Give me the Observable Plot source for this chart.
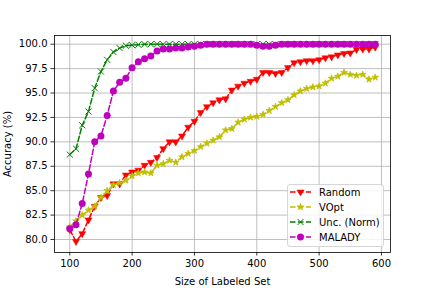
<!DOCTYPE html>
<html>
<head>
<meta charset="utf-8">
<script src="https://cdn.jsdelivr.net/npm/d3@7"></script>
<script src="https://cdn.jsdelivr.net/npm/@observablehq/plot@0.6"></script>
<style>
  html, body { margin: 0; padding: 0; background: #fff; }
  #wrap { position: relative; width: 432px; height: 288px; font-family: "DejaVu Sans", sans-serif; }
</style>
</head>
<body>
<div id="wrap"></div>
<script>
const sizes = [100,110,120,130,140,150,160,170,180,190,200,210,220,230,240,250,260,270,280,290,300,310,320,330,340,350,360,370,380,390,400,410,420,430,440,450,460,470,480,490,500,510,520,530,540,550,560,570,580,590];

const random = [81.0,79.8,80.6,82.0,83.4,84.3,84.5,85.7,85.7,86.6,86.9,87.1,87.6,87.9,88.4,89.3,90.0,90.0,90.6,91.5,92.1,93.0,93.6,94.0,94.3,94.4,95.3,95.7,96.0,96.2,96.4,97.1,97.1,97.0,97.1,97.6,98.1,98.2,98.3,98.3,98.4,98.6,98.7,98.9,99.05,99.1,99.45,99.5,99.5,99.7];

const vopt = [81.3,81.9,82.5,83.0,83.4,84.3,85.0,85.6,85.8,86.05,86.5,86.8,86.9,86.8,87.6,87.75,88.1,87.9,88.45,88.8,89.1,89.5,89.85,90.15,90.5,91.2,91.35,92.0,92.3,92.5,92.6,92.8,93.2,93.6,94.0,94.3,94.8,95.2,95.45,95.6,95.7,96.0,96.5,96.7,97.1,96.9,96.8,96.9,96.4,96.6];

const uncNorm = [88.7,89.3,91.7,93.1,95.5,97.2,98.4,99.2,99.6,99.85,99.9,99.95,100,100,100,100,100,100,100,100,100,100,100,100,100,100,100,100,100,100,100,100,100,100,100,100,100,100,100,100,100,100,100,100,100,100,100,100,100,100];

const malady = [81.1,81.5,83.7,86.7,90.0,90.6,92.7,95.2,96.1,96.5,97.6,98.2,98.5,98.8,99.3,99.5,99.5,99.6,99.6,99.7,99.8,99.9,100,100,100,100,100,100,100,100,99.9,99.8,99.8,99.9,100,100,100,100,100,100,100,100,100,100,100,100,100,100,100,100];

const seriesNames = ["Random", "VOpt", "Unc. (Norm)", "MALADY"];
const seriesColors = ["#ff0000", "#bfbf00", "#008000", "#bf00bf"];
const xTicks = [100, 200, 300, 400, 500, 600];
const yTicks = [80, 82.5, 85, 87.5, 90, 92.5, 95, 97.5, 100];

const valuesBySeries = [random, vopt, uncNorm, malady];
const rows = [];
valuesBySeries.forEach((vals, si) => {
  vals.forEach((v, i) => rows.push({series: seriesNames[si], x: sizes[i], y: v}));
});
const of = name => rows.filter(d => d.series === name);

const dash = "5.55,2.4";
const lineOpts = color => ({x: "x", y: "y", stroke: color, strokeWidth: 1.5, strokeDasharray: dash});

const R_TRI = 2.6, R_STAR = 2.1, R_TIMES = 2.9, R_CIRC = 3.5;

const chart = Plot.plot({
  width: 432,
  height: 288,
  marginLeft: 54,
  marginRight: 42,
  marginTop: 35,
  marginBottom: 36,
  style: {fontFamily: "DejaVu Sans, sans-serif", fontSize: "10px", color: "#000", background: "#fff"},
  x: {domain: [75.5, 614.5]},
  y: {domain: [78.67, 100.89]},
  marks: [
    Plot.gridX(xTicks, {stroke: "#b0b0b0", strokeOpacity: 1, strokeWidth: 0.8}),
    Plot.gridY(yTicks, {stroke: "#b0b0b0", strokeOpacity: 1, strokeWidth: 0.8}),
    Plot.axisX(xTicks, {tickSize: 3.5, tickPadding: 3.5, strokeWidth: 0.8, fontSize: 10, label: "Size of Labeled Set", labelAnchor: "center", labelArrow: "none", labelOffset: 32}),
    Plot.axisY(yTicks, {tickSize: 3.5, tickPadding: 3.5, strokeWidth: 0.8, fontSize: 10, tickFormat: d3.format(".1f"), label: "Accuracy (%)", labelAnchor: "center", labelArrow: "none"}),
    Plot.line(of("Random"), lineOpts(seriesColors[0])),
    Plot.dot(of("Random"), {x: "x", y: "y", symbol: "triangle", rotate: 180, r: R_TRI, fill: seriesColors[0], stroke: seriesColors[0], strokeWidth: 0.5}),
    Plot.line(of("VOpt"), lineOpts(seriesColors[1])),
    Plot.dot(of("VOpt"), {x: "x", y: "y", symbol: "star", r: R_STAR, fill: seriesColors[1], stroke: seriesColors[1], strokeWidth: 0.8}),
    Plot.line(of("Unc. (Norm)"), lineOpts(seriesColors[2])),
    Plot.dot(of("Unc. (Norm)"), {x: "x", y: "y", symbol: "times", r: R_TIMES, stroke: seriesColors[2], strokeWidth: 1}),
    Plot.line(of("MALADY"), lineOpts(seriesColors[3])),
    Plot.dot(of("MALADY"), {x: "x", y: "y", symbol: "circle", r: R_CIRC, fill: seriesColors[3], stroke: "none"}),
    Plot.frame({stroke: "#000", strokeWidth: 0.8})
  ]
});

const wrap = document.getElementById("wrap");
wrap.appendChild(chart);

// Legend (matplotlib-style box, lower right)
const ns = "http://www.w3.org/2000/svg";
const leg = document.createElementNS(ns, "svg");
leg.setAttribute("width", 432);
leg.setAttribute("height", 288);
leg.style.position = "absolute";
leg.style.left = "0px";
leg.style.top = "0px";
wrap.appendChild(leg);

const box = document.createElementNS(ns, "rect");
Object.entries({x: 287.5, y: 184.5, width: 96, height: 62, rx: 2.5, fill: "#fff", "fill-opacity": 0.8, stroke: "#cccccc", "stroke-width": 0.8}).forEach(([k, v]) => box.setAttribute(k, v));
leg.appendChild(box);

const syms = ["triangle-down", "star", "times", "circle"];
seriesNames.forEach((name, i) => {
  const cy = 192 + i * 15;
  const ln = document.createElementNS(ns, "line");
  Object.entries({x1: 290, x2: 311, y1: cy, y2: cy, stroke: seriesColors[i], "stroke-width": 1.5, "stroke-dasharray": dash}).forEach(([k, v]) => ln.setAttribute(k, v));
  leg.appendChild(ln);
  const g = document.createElementNS(ns, "path");
  let d, fill = seriesColors[i], stroke = seriesColors[i], sw = 0.5;
  if (syms[i] === "triangle-down") d = d3.symbol(d3.symbolTriangle, Math.PI * R_TRI * R_TRI)();
  if (syms[i] === "star") { d = d3.symbol(d3.symbolStar, Math.PI * R_STAR * R_STAR)(); sw = 0.8; }
  if (syms[i] === "times") { d = d3.symbol(d3.symbolTimes, Math.PI * R_TIMES * R_TIMES)(); fill = "none"; sw = 1; }
  if (syms[i] === "circle") { d = d3.symbol(d3.symbolCircle, Math.PI * R_CIRC * R_CIRC)(); stroke = "none"; }
  g.setAttribute("d", d);
  g.setAttribute("fill", fill);
  g.setAttribute("stroke", stroke);
  g.setAttribute("stroke-width", sw);
  g.setAttribute("transform", `translate(300.5,${cy})` + (syms[i] === "triangle-down" ? " rotate(180)" : ""));
  leg.appendChild(g);
  const t = document.createElementNS(ns, "text");
  t.setAttribute("x", 319);
  t.setAttribute("y", cy);
  t.setAttribute("dy", "0.35em");
  t.setAttribute("font-family", "DejaVu Sans, sans-serif");
  t.setAttribute("font-size", 10);
  t.setAttribute("fill", "#000");
  t.textContent = name;
  leg.appendChild(t);
});
</script>
</body>
</html>
